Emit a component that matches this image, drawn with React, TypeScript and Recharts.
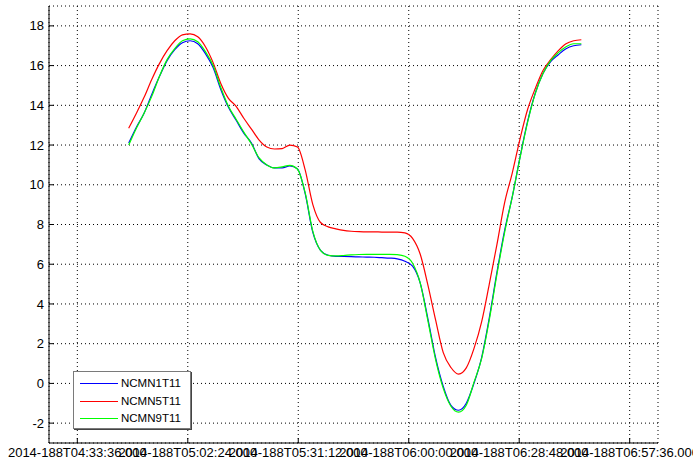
import { LineChart, Line, XAxis, YAxis, CartesianGrid, Legend } from 'recharts';

// sample times (every 2 min), day 188 of 2014
const TIMES = [
  '04:47:00', '04:49:00', '04:51:00', '04:53:00', '04:55:00', '04:57:00', '04:59:00', '05:01:00',
  '05:03:00', '05:05:00', '05:07:00', '05:09:00', '05:11:00', '05:13:00', '05:15:00', '05:17:00',
  '05:19:00', '05:21:00', '05:23:00', '05:25:00', '05:27:00', '05:29:00', '05:31:00', '05:33:00',
  '05:35:00', '05:37:00', '05:39:00', '05:41:00', '05:43:00', '05:45:00', '05:47:00', '05:49:00',
  '05:51:00', '05:53:00', '05:55:00', '05:57:00', '05:59:00', '06:01:00', '06:03:00', '06:05:00',
  '06:07:00', '06:09:00', '06:11:00', '06:13:00', '06:15:00', '06:17:00', '06:19:00', '06:21:00',
  '06:23:00', '06:25:00', '06:27:00', '06:29:00', '06:31:00', '06:33:00', '06:35:00', '06:37:00',
  '06:39:00', '06:41:00', '06:43:00', '06:45:00',
];

const NCMN1T11 = [
  12.1, 12.9, 13.6, 14.55, 15.45, 16.25, 16.8, 17.15, 17.25, 17.1, 16.6, 15.9,
  14.8, 13.9, 13.25, 12.6, 12.1, 11.3, 11.0, 10.85, 10.85, 10.95, 10.8, 9.55,
  7.6, 6.7, 6.45, 6.4, 6.39, 6.38, 6.37, 6.36, 6.35, 6.33, 6.31, 6.27,
  6.15, 5.9, 5.05, 3.25, 1.3, -0.15, -1.1, -1.35, -1.0, 0.0, 1.3, 3.3,
  5.6, 7.7, 9.4, 11.38, 13.2, 14.62, 15.6, 16.2, 16.55, 16.85, 17.0, 17.05,
];

const NCMN5T11 = [
  12.85, 13.6, 14.4, 15.3, 16.1, 16.75, 17.25, 17.55, 17.6, 17.45, 16.95, 16.15,
  15.1, 14.35, 13.95, 13.35, 12.8, 12.25, 11.9, 11.8, 11.82, 12.0, 11.9, 10.75,
  9.0, 8.1, 7.88, 7.78, 7.7, 7.66, 7.64, 7.63, 7.63, 7.62, 7.62, 7.62,
  7.58, 7.3, 6.5, 4.95, 3.2, 1.55, 0.8, 0.47, 0.78, 1.75, 3.1, 5.0,
  7.0, 9.1, 10.6, 12.3, 13.8, 14.85, 15.75, 16.3, 16.75, 17.1, 17.25, 17.3,
];

const NCMN9T11 = [
  12.0, 12.85, 13.6, 14.45, 15.45, 16.3, 16.85, 17.25, 17.35, 17.2, 16.7, 16.0,
  14.9, 13.95, 13.3, 12.65, 12.05, 11.35, 11.0, 10.85, 10.9, 10.98, 10.78, 9.6,
  7.65, 6.7, 6.45, 6.42, 6.44, 6.47, 6.49, 6.5, 6.5, 6.5, 6.5, 6.48,
  6.4, 6.05, 5.05, 3.15, 1.2, -0.25, -1.15, -1.45, -1.1, 0.05, 1.25, 3.2,
  5.5, 7.6, 9.4, 11.35, 13.15, 14.6, 15.6, 16.25, 16.65, 16.95, 17.1, 17.1,
];

const X_TICKS = ['04:33:36', '05:02:24', '05:31:12', '06:00:00', '06:28:48', '06:57:36'];
const Y_TICKS = [-2, 0, 2, 4, 6, 8, 10, 12, 14, 16, 18];

const SERIES = [
  { name: 'NCMN1T11', values: NCMN1T11, color: '#0000ff' },
  { name: 'NCMN5T11', values: NCMN5T11, color: '#ff0000' },
  { name: 'NCMN9T11', values: NCMN9T11, color: '#00ff00' },
];

function toSec(s: string) {
  const [h, m, sec] = s.split(':').map(Number);
  return h * 3600 + m * 60 + sec;
}

const pad = (n: number) => String(n).padStart(2, '0');

function formatTime(v: number) {
  const h = Math.floor(v / 3600);
  const m = Math.floor((v % 3600) / 60);
  const s = Math.round(v % 60);
  return `2014-188T${pad(h)}:${pad(m)}:${pad(s)}.000`;
}

const X_DOMAIN: [number, number] = [15973, 25499];
const Y_DOMAIN: [number, number] = [-3, 19];
const xTicks = X_TICKS.map(toSec);

const chartData = TIMES.map((t, i) => {
  const row: Record<string, number> = { t: toSec(t) };
  for (const s of SERIES) row[s.name] = s.values[i];
  return row;
});

// legend row centres inside the box
const ROW_Y = [11, 29, 46];

function LegendBox() {
  return (
    <div
      style={{
        position: 'relative',
        boxSizing: 'border-box',
        width: 118,
        height: 58,
        border: '1px solid #7a7a7a',
        boxShadow: '1px 1px 0 #444',
        background: '#fff',
        fontSize: 11.5,
        color: '#000',
      }}
    >
      {SERIES.map((s, i) => (
        <div key={s.name}>
          <div style={{ position: 'absolute', left: 6, top: ROW_Y[i], width: 38, height: 1, background: s.color }} />
          <div style={{ position: 'absolute', left: 47, top: ROW_Y[i] - 7, lineHeight: '14px' }}>{s.name}</div>
        </div>
      ))}
    </div>
  );
}

export default function App() {
  return (
    <div style={{ width: 693, height: 463, background: '#fff', fontFamily: '"Liberation Sans", Arial, sans-serif' }}>
      <style>{'body{margin:0}'}</style>
      <LineChart width={693} height={463} data={chartData} margin={{ top: 6, right: 35, left: 0, bottom: 0 }}>
        <CartesianGrid stroke="#000" strokeDasharray="1 3" />
        <XAxis
          dataKey="t"
          type="number"
          domain={X_DOMAIN}
          ticks={xTicks}
          interval={0}
          height={20}
          tickFormatter={formatTime}
          tick={{ fill: '#000', fontSize: 13 }}
          tickSize={-5}
          tickMargin={10}
          axisLine={{ stroke: '#000' }}
          tickLine={{ stroke: '#000' }}
          allowDataOverflow
        />
        <XAxis
          xAxisId="top"
          orientation="top"
          dataKey="t"
          type="number"
          domain={X_DOMAIN}
          ticks={xTicks}
          interval={0}
          height={0}
          tick={false}
          tickSize={-5}
          axisLine={{ stroke: '#000' }}
          tickLine={{ stroke: '#000' }}
          allowDataOverflow
        />
        <YAxis
          type="number"
          domain={Y_DOMAIN}
          ticks={Y_TICKS}
          interval={0}
          width={49}
          tick={{ fill: '#000', fontSize: 13 }}
          tickSize={-5}
          tickMargin={10}
          axisLine={{ stroke: '#000' }}
          tickLine={{ stroke: '#000' }}
          allowDataOverflow
        />
        <YAxis
          yAxisId="right"
          orientation="right"
          type="number"
          domain={Y_DOMAIN}
          ticks={Y_TICKS}
          interval={0}
          width={0}
          tick={false}
          tickSize={-5}
          axisLine={{ stroke: '#000' }}
          tickLine={{ stroke: '#000' }}
          allowDataOverflow
        />
        {SERIES.map((s) => (
          <Line
            key={s.name}
            type="monotone"
            dataKey={s.name}
            stroke={s.color}
            strokeWidth={1.2}
            dot={false}
            isAnimationActive={false}
          />
        ))}
        <Legend
          layout="horizontal"
          verticalAlign="middle"
          align="center"
          content={() => <LegendBox />}
          wrapperStyle={{ left: 73, top: 371, width: 118, height: 58 }}
        />
      </LineChart>
    </div>
  );
}
